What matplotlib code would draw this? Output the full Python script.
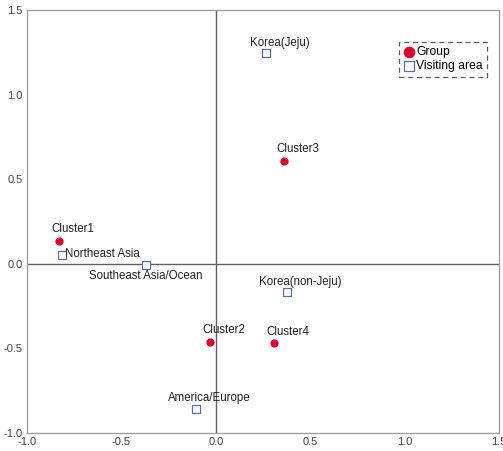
import matplotlib
matplotlib.use("Agg")
import matplotlib.pyplot as plt

plt.rcParams['font.family'] = ['Liberation Sans', 'DejaVu Sans']

# Group centroids
group_names = ["Cluster1", "Cluster2", "Cluster3", "Cluster4"]
group_x = [-0.83, -0.032, 0.36, 0.307]
group_y = [0.136, -0.46, 0.608, -0.47]

# Visiting areas
area_names = ["Korea(Jeju)", "Northeast Asia", "Southeast Asia/Ocean",
              "Korea(non-Jeju)", "America/Europe"]
area_x = [0.265, -0.815, -0.37, 0.376, -0.106]
area_y = [1.246, 0.053, -0.006, -0.165, -0.856]

x_ticks = [-1.0, -0.5, 0.0, 0.5, 1.0, 1.5]
y_ticks = [-1.0, -0.5, 0.0, 0.5, 1.0, 1.5]

red = "#e0002b"
blue = "#5b6fa6"
text_col = "#222222"

fig = plt.figure(figsize=(5.03, 4.51), dpi=100)
ax = fig.add_axes([27 / 503, 18 / 451, 472 / 503, 423 / 451])

ax.axhline(0, color="#606060", lw=1.0, zorder=1)
ax.axvline(0, color="#606060", lw=1.0, zorder=1)

ax.scatter(group_x, group_y, s=24, color=red, marker="o", zorder=3, label="Group")
ax.scatter(area_x, area_y, s=26, facecolor="white", edgecolor=blue, marker="s",
           linewidths=0.9, zorder=3, label="Visiting area")

fs = 8.3
dx = 10  # labels sit a little to the right of their point
for name, x, y in zip(group_names, group_x, group_y):
    ax.annotate(name, (x, y), xytext=(dx, 4), textcoords="offset points",
                ha="center", va="bottom", fontsize=fs, color=text_col)

for name, x, y in zip(area_names, area_x, area_y):
    if name == "Northeast Asia":
        ax.annotate(name, (x, y), xytext=(2.5, 0.5), textcoords="offset points",
                    ha="left", va="center", fontsize=fs, color=text_col)
    elif name == "Southeast Asia/Ocean":
        ax.annotate(name, (x, y), xytext=(0, -3.5), textcoords="offset points",
                    ha="center", va="top", fontsize=fs, color=text_col)
    else:
        ax.annotate(name, (x, y), xytext=(dx, 3), textcoords="offset points",
                    ha="center", va="bottom", fontsize=fs, color=text_col)

ax.set_xlim(-1.0, 1.5)
ax.set_ylim(-1.0, 1.5)
ax.set_xticks(x_ticks)
ax.set_yticks(y_ticks)
ax.set_xticklabels([f"{t:.1f}" for t in x_ticks])
ax.set_yticklabels([f"{t:.1f}" for t in y_ticks])
ax.tick_params(length=0, labelsize=8, colors="#444444", pad=3)
for sp in ax.spines.values():
    sp.set_color("#a0a0a0")
    sp.set_linewidth(1.0)

leg = ax.legend(loc="upper right", bbox_to_anchor=(0.975, 0.925), fontsize=8.7,
                frameon=True, fancybox=False, handletextpad=0.1,
                handlelength=1.0, borderpad=0.35, labelspacing=0.2,
                markerscale=1.5, borderaxespad=0)
frame = leg.get_frame()
frame.set_linestyle((0, (4, 3)))
frame.set_edgecolor("#333333")
frame.set_linewidth(0.9)

fig.savefig("out.png", dpi=100)
